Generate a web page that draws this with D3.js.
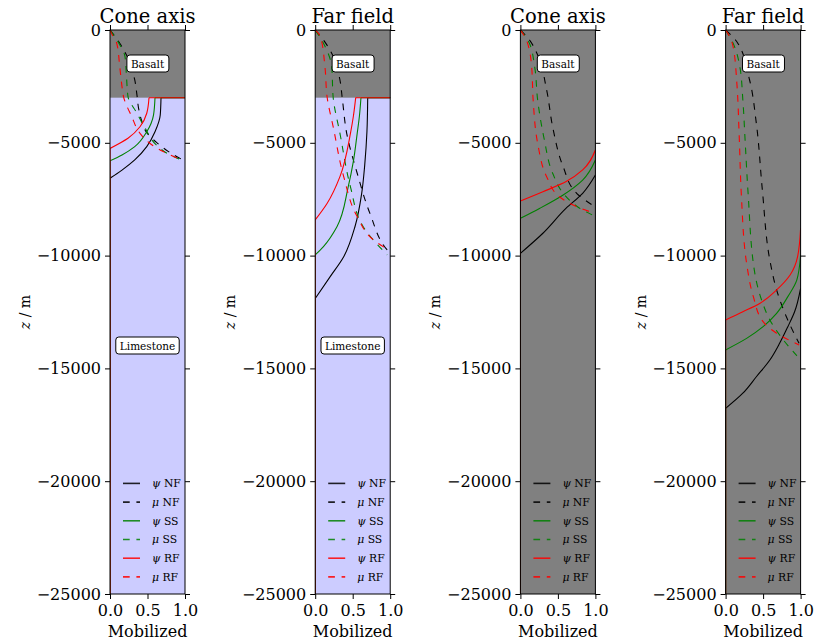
<!DOCTYPE html>
<html>
<head>
<meta charset="utf-8">
<script src="https://cdn.jsdelivr.net/npm/d3@7"></script>
<style>
  body { margin: 0; background: #fff; }
  svg { font-family: "DejaVu Serif", serif; }
</style>
</head>
<body>
<svg id="chart" width="815" height="642"></svg>
<script>
// panel titles and layers
const titles = ['Cone axis', 'Far field', 'Cone axis', 'Far field'];
const basaltBottom = [-3000, -3000, -25000, -25000];
const xTicks = [0, 0.5, 1];
const yTicks = [0, -5000, -10000, -15000, -20000, -25000];
const seriesNames = ['ψ NF', 'μ NF', 'ψ SS', 'μ SS', 'ψ RF', 'μ RF'];
const seriesColors = ['#000000', '#000000', '#008000', '#008000', '#ff0000', '#ff0000'];
const seriesDashed = [false, true, false, true, false, true];

// [mobilized, z] pairs
const p1PsiNF = [[0.68, -3000], [0.67, -3770], [0.60, -4510], [0.49, -5170], [0.33, -5760], [0.16, -6210], [0, -6570], [0, -25000]];
const p1MuNF = [[0, 0], [0.13, -590], [0.22, -1110], [0.33, -2216], [0.36, -2900], [0.38, -3450], [0.42, -4000], [0.49, -4550], [0.62, -4980], [0.78, -5390], [0.96, -5740]];
const p1PsiSS = [[0.60, -3000], [0.58, -3770], [0.49, -4510], [0.33, -5170], [0.16, -5540], [0, -5800], [0, -25000]];
const p1MuSS = [[0, 0], [0.12, -600], [0.20, -1180], [0.22, -2070], [0.24, -2950], [0.36, -3690], [0.47, -4360], [0.62, -5100], [0.80, -5540], [0.97, -5780]];
const p1PsiRF = [[0.52, -3000], [0.49, -3690], [0.40, -4290], [0.24, -4800], [0, -5250], [0, -25000]];
const p1MuRF = [[0, 0], [0.02, -150], [0.09, -590], [0.13, -1630], [0.16, -2510], [0.18, -2950], [0.29, -3840], [0.40, -4580], [0.53, -5020], [0.71, -5390], [0.97, -5780]];

const p2PsiNF = [[0.70, -3000], [0.69, -4500], [0.66, -6000], [0.62, -7240], [0.53, -8720], [0.38, -10050], [0.20, -10930], [0, -11900], [0, -25000]];
const p2MuNF = [[0, 0], [0.11, -440], [0.22, -1030], [0.33, -2216], [0.36, -3000], [0.42, -4580], [0.56, -6350], [0.73, -8130], [0.96, -9750], [1.0, -9900]];
const p2PsiSS = [[0.61, -3000], [0.59, -3800], [0.56, -4580], [0.51, -5800], [0.44, -6950], [0.29, -8720], [0.11, -9600], [0, -9970], [0, -25000]];
const p2MuSS = [[0, 0], [0.11, -590], [0.22, -1630], [0.24, -3000], [0.33, -4580], [0.47, -6950], [0.64, -8720], [0.96, -9970]];
const p2PsiRF = [[0.54, -3000], [0.51, -3800], [0.47, -4580], [0.33, -6500], [0.16, -7680], [0, -8420], [0, -25000]];
const p2MuRF = [[0, 0], [0.07, -300], [0.13, -1630], [0.16, -3000], [0.24, -4290], [0.38, -6500], [0.56, -8270], [0.78, -9310], [0.98, -9750]];

const p3PsiNF = [[1.0, -6430], [0.83, -7240], [0.61, -7900], [0.30, -9010], [0, -9900], [0, -25000]];
const p3MuNF = [[0, 0], [0.12, -440], [0.23, -1110], [0.35, -2660], [0.43, -4290], [0.57, -6060], [0.75, -7240], [0.99, -7830]];
const p3PsiSS = [[1.0, -5760], [0.83, -6650], [0.57, -7310], [0.26, -7900], [0, -8350], [0, -25000]];
const p3MuSS = [[0, 0], [0.12, -590], [0.19, -1630], [0.23, -3100], [0.32, -4880], [0.43, -6350], [0.61, -7390], [0.79, -7900], [0.99, -8250]];
const p3PsiRF = [[1.0, -5320], [0.83, -6200], [0.61, -6720], [0.30, -7170], [0, -7580], [0, -25000]];
const p3MuRF = [[0, 0], [0.08, -440], [0.15, -1630], [0.17, -3100], [0.23, -5020], [0.35, -6500], [0.52, -7390], [0.75, -7830], [0.99, -8130]];

const p4PsiNF = [[1.0, -11450], [0.92, -12490], [0.83, -13150], [0.72, -13890], [0.59, -14630], [0.41, -15370], [0.23, -16100], [0, -16770], [0, -25000]];
const p4MuNF = [[0, 0], [0.15, -520], [0.32, -2216], [0.41, -4140], [0.49, -7090], [0.59, -10200], [0.68, -11520], [0.81, -12710], [0.98, -13890]];
const p4PsiSS = [[1.0, -9970], [0.95, -11080], [0.83, -11820], [0.68, -12560], [0.50, -13150], [0.28, -13670], [0, -14180], [0, -25000]];
const p4MuSS = [[0, 0], [0.10, -590], [0.19, -1630], [0.23, -3100], [0.26, -4880], [0.30, -7240], [0.39, -10790], [0.48, -11970], [0.59, -12850], [0.77, -13740], [0.95, -14440]];
const p4PsiRF = [[1.0, -8790], [0.96, -10050], [0.86, -10860], [0.68, -11520], [0.46, -12110], [0.23, -12490], [0, -12850], [0, -25000]];
const p4MuRF = [[0, 0], [0.03, -150], [0.10, -740], [0.15, -2360], [0.18, -4580], [0.21, -7310], [0.28, -10340], [0.37, -11820], [0.50, -12930], [0.68, -13440], [0.98, -13960]];

const panelSeries = [
  [p1PsiNF, p1MuNF, p1PsiSS, p1MuSS, p1PsiRF, p1MuRF],
  [p2PsiNF, p2MuNF, p2PsiSS, p2MuSS, p2PsiRF, p2MuRF],
  [p3PsiNF, p3MuNF, p3PsiSS, p3MuSS, p3PsiRF, p3MuRF],
  [p4PsiNF, p4MuNF, p4PsiSS, p4MuSS, p4PsiRF, p4MuRF]
];

// layer labels: [text, z]
const layerLabels = [
  [['Basalt', -1500], ['Limestone', -14000]],
  [['Basalt', -1500], ['Limestone', -14000]],
  [['Basalt', -1500]],
  [['Basalt', -1500]]
];

const MARGINS = { top: 30, left: 110 };
const PANEL_W = 75;
const PANEL_H = 564;
const PANEL_STEP = 205.2;
const DASH = '6.7,6.7';

const svg = d3.select('#chart');

const xScale = d3.scaleLinear().domain([0, 1]).range([0, PANEL_W]);
const yScale = d3.scaleLinear().domain([0, -25000]).range([0, PANEL_H]);

const line = d3.line()
  .x(d => xScale(d[0]))
  .y(d => yScale(d[1]))
  .curve(d3.curveMonotoneY);
const straight = d3.line()
  .x(d => xScale(d[0]))
  .y(d => yScale(d[1]));

titles.forEach((title, i) => {
  const g = svg.append('g')
    .attr('transform', `translate(${MARGINS.left + i * PANEL_STEP}, ${MARGINS.top})`);

  g.append('clipPath').attr('id', `clip${i}`)
    .append('rect').attr('width', PANEL_W).attr('height', PANEL_H);

  // layers
  g.append('rect')
    .attr('width', PANEL_W)
    .attr('height', PANEL_H)
    .attr('fill', '#ccccff');
  g.append('rect')
    .attr('width', PANEL_W)
    .attr('height', yScale(basaltBottom[i]))
    .attr('fill', '#808080');

  const plot = g.append('g').attr('clip-path', `url(#clip${i})`);

  panelSeries[i].forEach((pts, k) => {
    const attrs = sel => sel
      .attr('fill', 'none')
      .attr('stroke', seriesColors[k])
      .attr('stroke-width', 1.1)
      .attr('stroke-dasharray', seriesDashed[k] ? DASH : null);
    // psi jumps in from outside the axis at the layer boundary
    if (!seriesDashed[k] && basaltBottom[i] === -3000) {
      plot.append('path').call(attrs).attr('d', straight([[1.05, -3000], pts[0]]));
    }
    const curved = pts[pts.length - 1][1] === -25000 ? pts.slice(0, -1) : pts;
    plot.append('path').call(attrs).attr('d', line(curved));
    if (curved !== pts) {
      plot.append('path').call(attrs).attr('d', straight(pts.slice(-2)));
    }
  });

  // layer labels
  layerLabels[i].forEach(([txt, z]) => {
    const lg = g.append('g').attr('transform', `translate(${xScale(0.5)}, ${yScale(z)})`);
    const t = lg.append('text')
      .attr('text-anchor', 'middle')
      .attr('dy', '0.35em')
      .attr('font-size', 10.5)
      .text(txt);
    const bb = t.node().getBBox();
    lg.insert('rect', 'text')
      .attr('x', bb.x - 4).attr('y', bb.y - 2.5)
      .attr('width', bb.width + 8).attr('height', bb.height + 5)
      .attr('rx', 3)
      .attr('fill', '#fff')
      .attr('stroke', '#000')
      .attr('stroke-width', 1);
  });

  // legend
  const leg = g.append('g').attr('transform', `translate(13, ${yScale(-20000) + 2.2})`);
  seriesNames.forEach((name, k) => {
    const row = leg.append('g').attr('transform', `translate(0, ${k * 18.7})`);
    row.append('line')
      .attr('x1', 0).attr('x2', 17)
      .attr('stroke', seriesColors[k])
      .attr('stroke-opacity', 0.85)
      .attr('stroke-width', 1.6)
      .attr('stroke-dasharray', seriesDashed[k] ? DASH : null);
    const [sym, lbl] = name.split(' ');
    const t = row.append('text')
      .attr('x', 29)
      .attr('dy', '0.35em')
      .attr('font-size', 10.8);
    t.append('tspan').attr('font-style', 'italic').text(sym);
    t.append('tspan').text(' ' + lbl);
  });

  // axes
  const fmtY = d3.format('d');
  g.append('g')
    .call(d3.axisLeft(yScale).tickValues(yTicks).tickFormat(fmtY).tickSize(5).tickSizeOuter(0).tickPadding(4))
    .call(a => a.select('.domain').remove())
    .selectAll('text').attr('font-size', 16).attr('font-family', 'DejaVu Serif');
  g.append('g').attr('transform', `translate(${PANEL_W}, 0)`)
    .call(d3.axisRight(yScale).tickValues(yTicks).tickFormat('').tickSize(5).tickSizeOuter(0))
    .call(a => a.select('.domain').remove());
  g.append('g').attr('transform', `translate(0, ${PANEL_H})`)
    .call(d3.axisBottom(xScale).tickValues(xTicks).tickFormat(d3.format('.1f')).tickSize(5).tickSizeOuter(0).tickPadding(6))
    .call(a => a.select('.domain').remove())
    .selectAll('text').attr('font-size', 16).attr('font-family', 'DejaVu Serif');
  g.append('g')
    .call(d3.axisTop(xScale).tickValues(xTicks).tickFormat('').tickSize(5).tickSizeOuter(0))
    .call(a => a.select('.domain').remove());

  g.append('rect')
    .attr('width', PANEL_W).attr('height', PANEL_H)
    .attr('fill', 'none').attr('stroke', '#000').attr('stroke-width', 1);

  // titles and labels
  g.append('text')
    .attr('x', PANEL_W / 2).attr('y', -7)
    .attr('text-anchor', 'middle')
    .attr('font-size', 19.5)
    .text(title);
  g.append('text')
    .attr('x', PANEL_W / 2).attr('y', PANEL_H + 43)
    .attr('text-anchor', 'middle')
    .attr('font-size', 16)
    .text('Mobilized');
  const yl = g.append('text')
    .attr('transform', `translate(-80, ${PANEL_H / 2}) rotate(-90)`)
    .attr('text-anchor', 'middle')
    .attr('font-size', 14);
  yl.append('tspan').attr('font-style', 'italic').text('z');
  yl.append('tspan').text(' / m');
});
</script>
</body>
</html>
